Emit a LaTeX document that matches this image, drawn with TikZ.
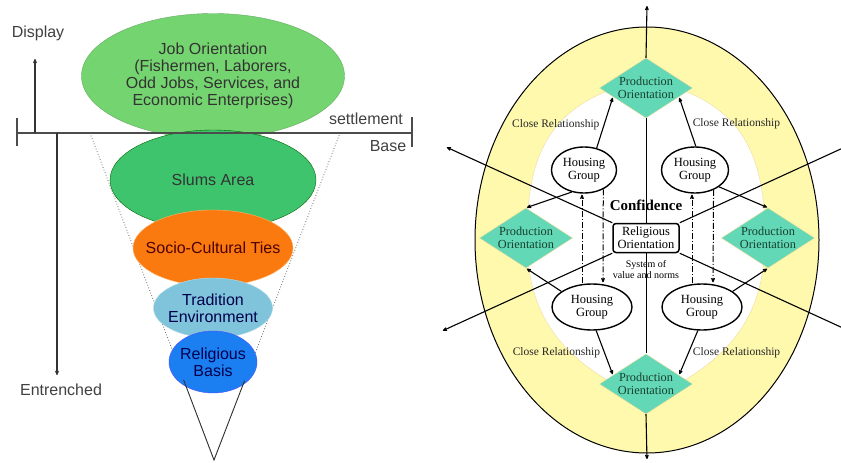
\documentclass[tikz,border=0pt]{standalone}
\usepackage{fontspec}
\setmainfont{Liberation Serif}
\setsansfont{Liberation Sans}
\usetikzlibrary{arrows.meta, shapes.geometric, positioning}
\definecolor{jobgreen}{HTML}{74D46F}
\definecolor{slumgreen}{HTML}{3FC46E}
\definecolor{socorange}{HTML}{FB7A10}
\definecolor{tradblue}{HTML}{80C4DC}
\definecolor{religblue}{HTML}{1B7FF2}
\definecolor{ringyellow}{HTML}{FFF9AE}
\definecolor{ringedge}{HTML}{EEDB9A}
\definecolor{prodmint}{HTML}{62D8B6}
\definecolor{prodtext}{HTML}{17402E}

\begin{document}
\begin{tikzpicture}[x=1pt, y=-1pt, on grid, shorten >=1pt,
      >={Stealth[round,length=6pt,width=5pt]},
      layer/.style={ellipse, inner sep=-20pt, align=center, text=black!80,
        font=\sffamily\fontsize{16}{17}\selectfont},
      axislabel/.style={font=\sffamily\fontsize{16}{17}\selectfont, text=black!75},
      housing/.style={ellipse, draw, line width=1.4pt, fill=white, minimum height=46,
        inner sep=0pt, align=center, font=\fontsize{12.5}{13.5}\selectfont},
      prod/.style={diamond, aspect=1.55, fill=prodmint, draw=ringedge, inner sep=-1.5pt,
        minimum width=93, minimum height=60,
        align=center, text=prodtext, font=\fontsize{12.3}{13}\selectfont},
      rel/.style={font=\fontsize{11.5}{12}\selectfont, text=black!85, inner sep=1pt}]
  \useasboundingbox (0,0) rectangle (841,463);

  % left: the cone of layers
  \coordinate (b_l) at (17,133);
  \coordinate (b_r) at (412,133);
  \coordinate (up_1) at (35,58);
  \coordinate (dn_1) at (57,376);
  \coordinate (c_l) at (90,133);
  \coordinate (c_r) at (340,133);
  \coordinate (apex) at (214,460);
  \draw[dotted, line width=.8pt, black!60] (c_l) -- coordinate[pos=.755] (s_l) (apex)
    -- coordinate[pos=.245] (s_r) (c_r);

  \node[layer, fill=jobgreen, draw=green!45!black!60, minimum width=263, minimum height=125]
    (job) at (213,76) {Job Orientation\\(Fishermen, Laborers,\\Odd Jobs, Services, and\\Economic Enterprises)};
  \node[layer, fill=slumgreen, draw=green!40!black, minimum width=206, minimum height=100,
    below=104pt of job] (slums) {Slums Area};
  \node[layer, fill=socorange, draw=orange!60, text=red!30!black, minimum width=160,
    minimum height=76, below=68pt of slums] (socio) {Socio-Cultural Ties};
  \node[layer, fill=tradblue, draw=tradblue!60, text=blue!30!black, minimum width=119,
    minimum height=60, below=60pt of socio] (trad) {Tradition\\Environment};
  \node[layer, fill=religblue, draw=blue!70, text=blue!30!black, minimum width=88,
    minimum height=62, below=54pt of trad] (relig) {Religious\\Basis};
  \draw[black!80, line width=.9pt] (s_l) -- (apex) -- (s_r);

  \draw[black!70, line width=1.3pt] (b_l) -- (b_r);
  \draw[black!70, line width=1.3pt] ([yshift=15]b_l) -- ([yshift=-14]b_l);
  \draw[black!70, line width=1.3pt] ([yshift=16]b_r) -- ([yshift=-15]b_r);
  \draw[->, black!80, line width=1.2pt] (b_l -| up_1) -- (up_1);
  \draw[->, black!80, line width=1.2pt] (b_l -| dn_1) -- (dn_1);
  \node[axislabel] (display) at (38,33) {Display};
  \node[axislabel] (entrenched) at (61,390) {Entrenched};
  \node[axislabel] (settle) at (366,119) {settlement};
  \node[axislabel] (base) at (388,146) {Base};

  % right: the settlement ring
  \node[ellipse, draw, line width=1pt, fill=ringyellow, minimum width=344,
    minimum height=426] (ring) at (647,240) {};
  \draw[ringedge, fill=white] (646,80) .. controls (545,100) and (527,160) .. (527,238)
    .. controls (527,310) and (555,360) .. (646,400)
    .. controls (737,360) and (765,310) .. (765,238)
    .. controls (765,160) and (747,100) .. (646,80) -- cycle;

  \node[draw, line width=1.5pt, rounded corners=3pt, fill=white, minimum width=66,
    minimum height=29, inner sep=1pt, align=center, font=\fontsize{12.5}{13}\selectfont]
    (hub) at (646,238) {Religious\\Orientation};
  \node[prod, above=150pt of hub] (po_top) {Production\\Orientation};
  \node[prod, below=146pt of hub] (po_bot) {Production\\Orientation};
  \node[prod, left=120pt of hub] (po_left) {Production\\Orientation};
  \node[prod, right=122pt of hub] (po_right) {Production\\Orientation};

  \node[housing, minimum width=65, above left=68pt and 62pt of hub] (hg_tl) {Housing\\Group};
  \node[housing, minimum width=67, above right=68pt and 49pt of hub] (hg_tr) {Housing\\Group};
  \node[housing, minimum width=80, below left=69pt and 54pt of hub] (hg_bl) {Housing\\Group};
  \node[housing, minimum width=80, below right=69pt and 56pt of hub] (hg_br) {Housing\\Group};

  \node[font=\bfseries\fontsize{15}{16}\selectfont, above=33pt of hub] (conf) {Confidence};
  \node[font=\fontsize{10}{11}\selectfont, align=center, below=32pt of hub] (sys)
    {System of\\value and norms};

  \coordinate (far_n) at (647,5);
  \coordinate (far_s) at (647,460);
  \coordinate (far_nw) at (446,147);
  \coordinate (far_ne) at (856,142);
  \coordinate (far_sw) at (442,331);
  \coordinate (far_se) at (856,334);

  \draw[line width=1pt] (po_top.south) -- (hub.north) (hub.south) -- (po_bot.north);
  \path[->, line width=1.1pt]
    (po_top.north) edge (far_n)
    (po_bot.south) edge (far_s)
    (hub.north west) edge (far_nw)
    (hub.north east) edge (far_ne)
    (hub.south west) edge (far_sw)
    (hub.south east) edge (far_se);

  \path[->, line width=1.1pt]
    (hg_tl.60) edge node[rel, left=3pt, pos=.45] {Close Relationship} (po_top.195)
    (hg_tr.88) edge node[rel, right=3pt, pos=.45] {Close Relationship} (po_top.-15)
    (hg_tl.241) edge (po_left.north)
    (hg_tr.-35) edge (po_right.north)
    (hg_bl.153) edge (po_left.south)
    (hg_br.27) edge (po_right.south)
    (hg_bl.-80) edge node[rel, left=3pt] {Close Relationship} (po_bot.165)
    (hg_br.-100) edge node[rel, right=3pt] {Close Relationship} (po_bot.15);

  \path[->, line width=1pt, dash pattern=on 6pt off 2pt on 1pt off 2pt]
    ([xshift=-10]hg_bl.north) edge ([xshift=-2]hg_tl.south)
    (hg_tl.-45) edge ([xshift=11]hg_bl.north)
    ([xshift=-10]hg_br.north) edge ([xshift=-3]hg_tr.south)
    (hg_tr.-47) edge ([xshift=11]hg_br.north);
\end{tikzpicture}
\end{document}
